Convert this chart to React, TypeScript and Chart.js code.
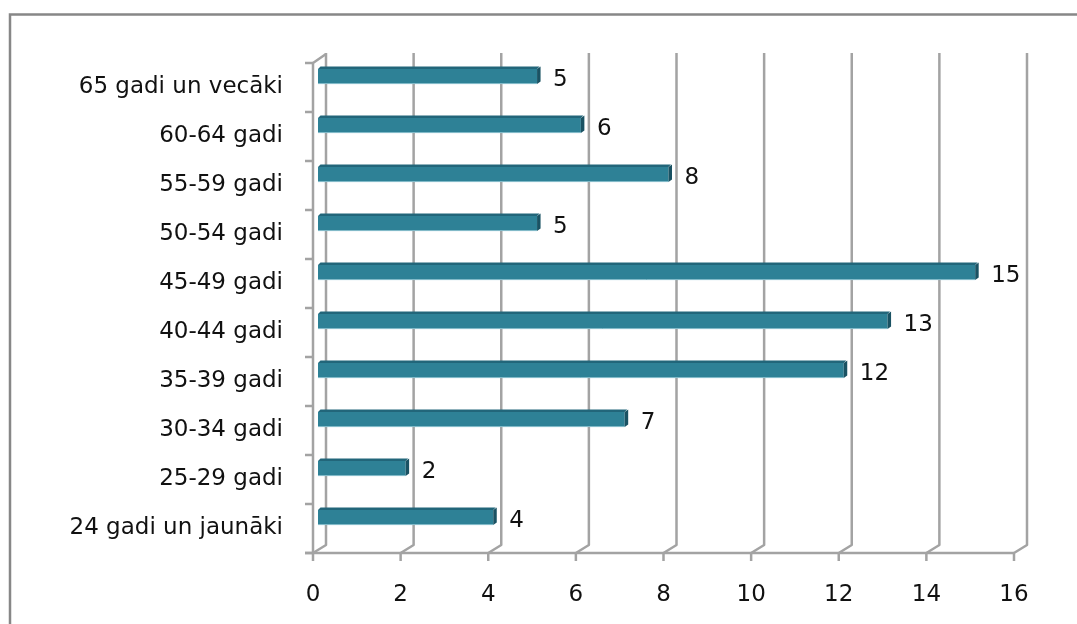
import React, { useEffect, useRef } from "react";
import { Chart, registerables } from "chart.js";

Chart.register(...registerables);

const categories = [
  "65 gadi un vecāki",
  "60-64 gadi",
  "55-59 gadi",
  "50-54 gadi",
  "45-49 gadi",
  "40-44 gadi",
  "35-39 gadi",
  "30-34 gadi",
  "25-29 gadi",
  "24 gadi un jaunāki",
];
const values = [5, 6, 8, 5, 15, 13, 12, 7, 2, 4];
const xMin = 0;
const xMax = 16;
const xStep = 2;

const FONT = { family: "DejaVu Sans", size: 23 };
const TEXT = "#111111";
const GRID = "#A3A3A3";
const BAR_FRONT = "#2E8196";
const BAR_TOP = "#22667A";
const BAR_SIDE = "#1A5263";
const DX = 13;
const DY = -8;
const BAR_DX = 5;
const BAR_DY = -11;
const FACE = 2.5;

const framePlugin = {
  id: "frame3d",
  beforeDatasetsDraw(chart: any) {
    const { ctx, chartArea, scales } = chart;
    const xs = scales.x;
    const top = chartArea.top;
    const bottom = chartArea.bottom;
    const x0 = xs.getPixelForValue(xMin);
    const xEnd = xs.getPixelForValue(xMax);
    ctx.save();
    ctx.strokeStyle = GRID;
    ctx.lineWidth = 2.5;
    ctx.lineJoin = "round";
    xs.ticks.forEach((t: any) => {
      const x = xs.getPixelForValue(t.value);
      ctx.beginPath();
      ctx.moveTo(x, bottom + 8);
      ctx.lineTo(x, bottom);
      ctx.lineTo(x + DX, bottom + DY);
      ctx.lineTo(x + DX, top - 10);
      ctx.stroke();
    });
    ctx.beginPath();
    ctx.moveTo(x0 - 8, bottom);
    ctx.lineTo(xEnd, bottom);
    ctx.stroke();
    ctx.beginPath();
    ctx.moveTo(x0, bottom);
    ctx.lineTo(x0, top);
    ctx.lineTo(x0 + DX, top - 9);
    ctx.stroke();
    const n = categories.length;
    for (let i = 0; i <= n; i++) {
      const y = top + ((bottom - top) * i) / n;
      ctx.beginPath();
      ctx.moveTo(x0 - 8, y);
      ctx.lineTo(x0, y);
      ctx.stroke();
    }
    ctx.restore();
  },
  beforeDatasetDraw(chart: any) {
    chart.ctx.save();
    chart.ctx.translate(BAR_DX, BAR_DY);
  },
  afterDatasetDraw(chart: any, args: any) {
    const { ctx } = chart;
    const meta = chart.getDatasetMeta(args.index);
    meta.data.forEach((bar: any) => {
      const p = bar.getProps(["x", "y", "base", "height"], true);
      const t = p.y - p.height / 2;
      const b = p.y + p.height / 2;
      ctx.fillStyle = BAR_TOP;
      ctx.beginPath();
      ctx.moveTo(p.base, t);
      ctx.lineTo(p.base + FACE, t - FACE);
      ctx.lineTo(p.x + FACE, t - FACE);
      ctx.lineTo(p.x, t);
      ctx.closePath();
      ctx.fill();
      ctx.fillStyle = BAR_SIDE;
      ctx.beginPath();
      ctx.moveTo(p.x, t);
      ctx.lineTo(p.x + FACE + 1, t - FACE);
      ctx.lineTo(p.x + FACE + 1, b - FACE);
      ctx.lineTo(p.x, b);
      ctx.closePath();
      ctx.fill();
      ctx.strokeStyle = "#8CC0CE";
      ctx.lineWidth = 1;
      ctx.beginPath();
      ctx.moveTo(p.base, b - 0.5);
      ctx.lineTo(p.x, b - 0.5);
      ctx.stroke();
    });
    ctx.restore();
  },
  afterDatasetsDraw(chart: any) {
    const { ctx, scales } = chart;
    const xs = scales.x;
    const meta = chart.getDatasetMeta(0);
    ctx.save();
    ctx.font = `${FONT.size}px ${FONT.family}`;
    ctx.fillStyle = TEXT;
    ctx.textBaseline = "middle";
    ctx.textAlign = "left";
    meta.data.forEach((bar: any, i: number) => {
      const v = values[i];
      const x = xs.getPixelForValue(v) + 21;
      const y = bar.y - 7;
      ctx.fillText(String(v), x, y);
    });
    ctx.restore();
  },
  afterDraw(chart: any) {
    const { ctx } = chart;
    ctx.save();
    ctx.strokeStyle = "#878787";
    ctx.lineWidth = 2.5;
    ctx.strokeRect(10, 14.5, 1200, 800);
    ctx.restore();
  },
};

export default function App() {
  const ref = useRef<HTMLCanvasElement | null>(null);
  useEffect(() => {
    if (!ref.current) return;
    const chart = new Chart(ref.current, {
      type: "bar",
      data: {
        labels: categories,
        datasets: [
          {
            data: values,
            backgroundColor: BAR_FRONT,
            borderWidth: 0,
            barPercentage: 0.31,
            categoryPercentage: 1,
          },
        ],
      },
      options: {
        indexAxis: "y",
        animation: false,
        responsive: false,
        devicePixelRatio: 1,
        layout: { padding: { top: 63, right: 63, bottom: 0, left: 0 } },
        plugins: { legend: { display: false }, tooltip: { enabled: false } },
        scales: {
          x: {
            min: xMin,
            max: xMax,
            grid: { display: false, drawTicks: false },
            border: { display: false },
            ticks: {
              stepSize: xStep,
              font: FONT,
              color: TEXT,
              padding: 28,
            },
            afterFit: (s: any) => {
              s.height = 71;
            },
          },
          y: {
            grid: { display: false, drawTicks: false },
            border: { display: false },
            ticks: {
              font: FONT,
              color: TEXT,
              padding: 30,
            },
            afterFit: (s: any) => {
              s.width = 313;
            },
          },
        },
      },
      plugins: [framePlugin],
    });
    return () => chart.destroy();
  }, []);
  return (
    <div style={{ position: "absolute", left: 0, top: 0, width: 1077, height: 624, background: "#fff" }}>
      <canvas ref={ref} width={1077} height={624} />
    </div>
  );
}
